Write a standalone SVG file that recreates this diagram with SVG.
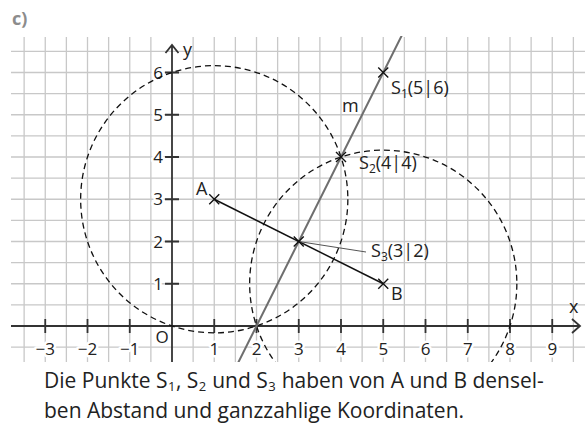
<svg xmlns="http://www.w3.org/2000/svg" width="585" height="430" viewBox="0 0 585 430">
<style>
text{font-family:"Open Sans","Noto Sans","DejaVu Sans",sans-serif;fill:#222}
.lbl{font-size:18px}
.num{font-size:17px;paint-order:stroke;stroke:#fff;stroke-width:5px;stroke-linejoin:round}
.grid{stroke:#c8c8c8;stroke-width:1.3;fill:none}
.axis{stroke:#333;stroke-width:1.8;fill:none}
.circ{stroke:#111;stroke-width:1.3;fill:none;stroke-dasharray:6 4}
.cross{stroke:#111;stroke-width:1.4;fill:none}
.sub{font-size:12px}
.body{font-size:21px}
.bsub{font-size:13px}
</style>
<defs>
<clipPath id="area"><rect x="0" y="36" width="585" height="326"/></clipPath>
</defs>
<rect width="585" height="430" fill="#fff"/>
<text x="12" y="25" style="font-size:18px;font-weight:bold;fill:#8c8c8c">c)</text>
<g id="grid">
<path class="grid" d="M24.125 37V362M45.25 37V362M66.375 37V362M87.5 37V362M108.625 37V362M129.75 37V362M150.875 37V362M193.125 37V362M214.25 37V362M235.375 37V362M256.5 37V362M277.625 37V362M298.75 37V362M319.875 37V362M341 37V362M362.125 37V362M383.25 37V362M404.375 37V362M425.5 37V362M446.625 37V362M467.75 37V362M488.875 37V362M510 37V362M531.125 37V362M552.25 37V362M573.375 37V362
M11 347.125H585M11 304.875H585M11 283.75H585M11 262.625H585M11 241.5H585M11 220.375H585M11 199.25H585M11 178.125H585M11 157H585M11 135.875H585M11 114.75H585M11 93.625H585M11 72.5H585M11 51.375H585"/>
</g>
<g id="axes">
<path class="axis" d="M11 326H580M572 319L580 326L572 333M172 362V45M165.5 53L172 45L178.5 53"/>
<path class="axis" d="M45.25 319V333M87.5 319V333M129.75 319V333M214.25 319V333M256.5 319V333M298.75 319V333M341 319V333M383.25 319V333M425.5 319V333M467.75 319V333M510 319V333M552.25 319V333
M165 283.75H179M165 241.5H179M165 199.25H179M165 157H179M165 114.75H179M165 72.5H179"/>
<text class="lbl" x="569" y="313">x</text>
<text class="lbl" x="183" y="56">y</text>
</g>
<g id="ticklabels" text-anchor="middle">
<text class="num" x="45.25" y="355">−3</text>
<text class="num" x="87.5" y="355">−2</text>
<text class="num" x="129.75" y="355">−1</text>
<text class="num" x="214.25" y="355">1</text>
<text class="num" x="256.5" y="355">2</text>
<text class="num" x="298.75" y="355">3</text>
<text class="num" x="341" y="355">4</text>
<text class="num" x="383.25" y="355">5</text>
<text class="num" x="425.5" y="355">6</text>
<text class="num" x="467.75" y="355">7</text>
<text class="num" x="510" y="355">8</text>
<text class="num" x="552.25" y="355">9</text>
<text class="num" x="162" y="343">O</text>
</g>
<g id="yticklabels" text-anchor="end">
<text class="num" x="163" y="289.5">1</text>
<text class="num" x="163" y="247.5">2</text>
<text class="num" x="163" y="205">3</text>
<text class="num" x="163" y="163">4</text>
<text class="num" x="163" y="120.5">5</text>
<text class="num" x="163" y="78.5">6</text>
</g>
<g id="connectors" clip-path="url(#area)">
<circle id="circleA" class="circ" cx="214.25" cy="199.25" r="133.6"/>
<circle id="circleB" class="circ" cx="383.25" cy="283.75" r="133.6"/>
<line id="m" x1="237.9" y1="363.2" x2="404.4" y2="30.25" stroke="#6e6e6e" stroke-width="2"/>
<line id="AB" x1="214.25" y1="199.25" x2="383.25" y2="283.75" stroke="#111" stroke-width="1.5"/>
<line id="leader" x1="298.75" y1="241.5" x2="366" y2="252" stroke="#555" stroke-width="1"/>
</g>
<g id="A">
<path class="cross" d="M209.25 194.25L219.25 204.25M219.25 194.25L209.25 204.25"/>
<text class="lbl" x="196" y="195">A</text>
</g>
<g id="B">
<path class="cross" d="M378.25 278.75L388.25 288.75M388.25 278.75L378.25 288.75"/>
<text class="lbl" x="391" y="300">B</text>
</g>
<g id="S1">
<path class="cross" d="M378.25 67.5L388.25 77.5M388.25 67.5L378.25 77.5"/>
<text class="lbl" x="391" y="94">S<tspan class="sub" dy="4">1</tspan><tspan dy="-4">(5|6)</tspan></text>
</g>
<g id="S2">
<path class="cross" d="M336 152L346 162M346 152L336 162"/>
<text class="lbl" x="359" y="169">S<tspan class="sub" dy="4">2</tspan><tspan dy="-4">(4|4)</tspan></text>
</g>
<g id="S3">
<path class="cross" d="M293.75 236.5L303.75 246.5M303.75 236.5L293.75 246.5"/>
<text class="lbl" x="371" y="257">S<tspan class="sub" dy="4">3</tspan><tspan dy="-4">(3|2)</tspan></text>
</g>
<g id="mlabel">
<text class="lbl" x="342" y="112">m</text>
</g>
<g id="caption">
<text class="body" x="44" y="388">Die Punkte S<tspan class="bsub" dx="0.5" dy="3">1</tspan><tspan dx="0.5" dy="-3">, S</tspan><tspan class="bsub" dx="0.5" dy="3">2</tspan><tspan dx="0.5" dy="-3"> und S</tspan><tspan class="bsub" dx="0.5" dy="3">3</tspan><tspan dx="0.5" dy="-3"> haben von A und B densel-</tspan></text>
<text class="body" x="44" y="418">ben Abstand und ganzzahlige Koordinaten.</text>
</g>
</svg>
